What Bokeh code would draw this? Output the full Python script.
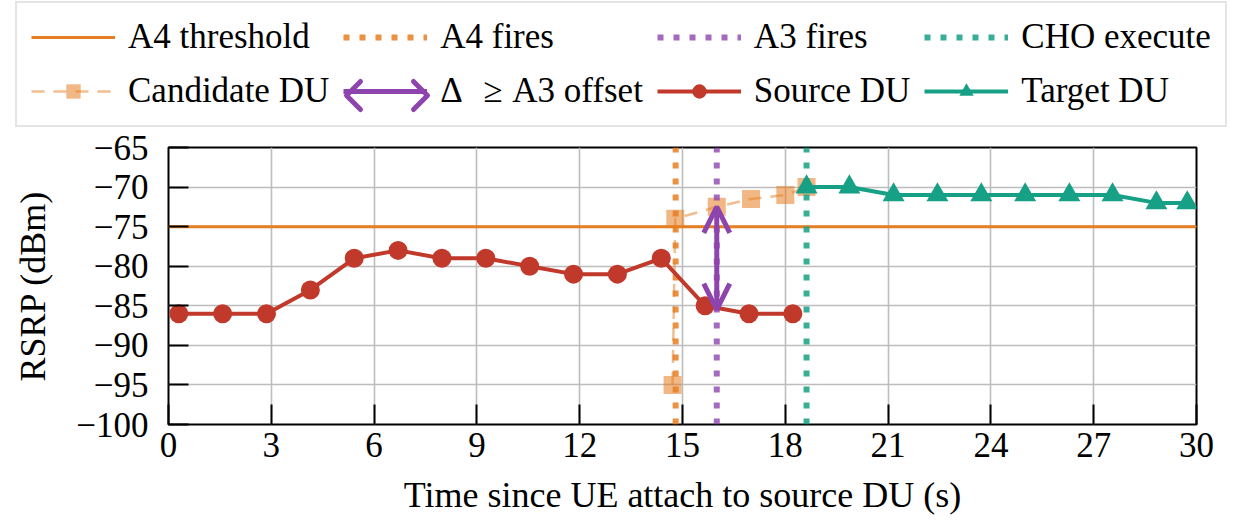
from bokeh.plotting import figure
from bokeh.layouts import column
from bokeh.models import (Legend, LegendItem, Arrow, OpenHead, Range1d, FixedTicker)
from bokeh.embed import file_html
from bokeh.resources import INLINE

# ---------------- data ----------------
t_source = [0.3, 1.58, 2.86, 4.14, 5.42, 6.7, 7.98, 9.26, 10.54, 11.82, 13.1, 14.38, 15.66, 16.94, 18.22]
rsrp_source = [-86, -86, -86, -83, -79, -78, -79, -79, -80, -81, -81, -79, -85, -86, -86]

t_target = [18.62, 19.87, 21.16, 22.44, 23.72, 25.0, 26.29, 27.55, 28.83, 29.73]
rsrp_target = [-70, -70, -71, -71, -71, -71, -71, -71, -72, -72]

t_candidate = [14.71, 14.79, 16.0, 17.0, 18.0, 18.62]
rsrp_candidate = [-95, -74, -72.5, -71.5, -71, -70]

a4_threshold = -75
t_a4_fires = 14.8
t_a3_fires = 16.0
t_cho_execute = 18.62
a3_arrow_rsrp = [-85.5, -72.5]

x_min, x_max = 0, 30
y_min, y_max = -100, -65
x_ticks = [0, 3, 6, 9, 12, 15, 18, 21, 24, 27, 30]
y_ticks = [-100, -95, -90, -85, -80, -75, -70, -65]
y_tick_labels = ["\u2212100", "\u221295", "\u221290", "\u221285", "\u221280", "\u221275", "\u221270", "\u221265"]

legend_labels = ["A4 threshold", "A4 fires", "A3 fires", "CHO execute",
                 "Candidate DU", "\u0394\u2002\u200a\u2265\u2009\u200aA3 offset", "Source DU", "Target DU"]

# ---------------- style ----------------
FONT = "Liberation Serif"
ORANGE = "#e67e22"
PURPLE = "#8e44ad"
TEAL = "#16a085"
RED = "#c0392b"
DOT = "6 10"

STY = {
    "thresh": dict(line_color=ORANGE, line_width=3),
    "a4": dict(line_color=ORANGE, line_alpha=0.85, line_width=6, line_dash=DOT),
    "a3": dict(line_color=PURPLE, line_alpha=0.8, line_width=6, line_dash=DOT),
    "cho": dict(line_color=TEAL, line_alpha=0.85, line_width=6, line_dash=DOT),
    "cand_line": dict(line_color=ORANGE, line_alpha=0.5, line_width=2.5, line_dash="13 9"),
    "cand_pts": dict(marker="square", size=18, fill_color=ORANGE, fill_alpha=0.55, line_color=None),
    "delta": dict(line_color=PURPLE, line_width=5),
    "src_line": dict(line_color=RED, line_width=4),
    "src_pts": dict(marker="circle", size=19, fill_color=RED, line_color=None),
    "tgt_line": dict(line_color=TEAL, line_width=4),
    "tgt_pts": dict(marker="triangle", size=22, fill_color=TEAL, line_color=None),
}
HEAD = dict(size=26, line_color=PURPLE, line_width=5)

LH = 128          # legend strip height
TOP = 147 - LH    # remaining border above the plot frame

# ================= main plot =================
p = figure(width=1244, height=526 - LH, output_backend="svg", toolbar_location=None,
           x_range=Range1d(x_min, x_max), y_range=Range1d(y_min, y_max),
           min_border_left=168, min_border_right=48, min_border_top=TOP, min_border_bottom=102)
p.frame_align = False
p.background_fill_color = "white"
p.border_fill_color = "white"
p.outline_line_color = "black"
p.outline_line_width = 2

p.xgrid.ticker = FixedTicker(ticks=x_ticks)
p.ygrid.ticker = FixedTicker(ticks=y_ticks)
for g in (p.xgrid, p.ygrid):
    g.grid_line_color = "#bdbdbd"
    g.grid_line_width = 1.6

p.xaxis.ticker = FixedTicker(ticks=x_ticks)
p.yaxis.ticker = FixedTicker(ticks=y_ticks)
p.yaxis.major_label_overrides = {v: s for v, s in zip(y_ticks, y_tick_labels)}
p.xaxis.axis_label = "Time since UE attach to source DU (s)"
p.yaxis.axis_label = "RSRP (dBm)"
for ax in (p.xaxis, p.yaxis):
    ax.axis_line_color = None
    ax.major_tick_in = 20
    ax.major_tick_out = 0
    ax.minor_tick_in = 0
    ax.minor_tick_out = 0
    ax.major_tick_line_color = "black"
    ax.major_tick_line_width = 2
    ax.major_label_text_font = FONT
    ax.major_label_text_font_size = "35px"
    ax.major_label_text_color = "black"
    ax.axis_label_text_font = FONT
    ax.axis_label_text_font_size = "36px"
    ax.axis_label_text_font_style = "normal"
    ax.axis_label_text_color = "black"
p.xaxis.major_label_standoff = 8
p.xaxis.axis_label_standoff = 15
p.yaxis.major_label_standoff = 20
p.yaxis.axis_label_standoff = 20

p.line(x=[x_min, x_max], y=[a4_threshold, a4_threshold], **STY["thresh"])
p.line(x=t_candidate, y=rsrp_candidate, **STY["cand_line"])
p.scatter(x=t_candidate, y=rsrp_candidate, **STY["cand_pts"])
p.segment(x0=[t_a4_fires], y0=[y_min], x1=[t_a4_fires], y1=[y_max], **STY["a4"])
p.segment(x0=[t_a3_fires], y0=[y_min], x1=[t_a3_fires], y1=[y_max], **STY["a3"])
p.line(x=t_source, y=rsrp_source, **STY["src_line"])
p.scatter(x=t_source, y=rsrp_source, **STY["src_pts"])
p.add_layout(Arrow(x_start=t_a3_fires, y_start=a3_arrow_rsrp[0], x_end=t_a3_fires, y_end=a3_arrow_rsrp[1],
                   line_color=PURPLE, line_width=5, start=OpenHead(**HEAD), end=OpenHead(**HEAD)))
p.segment(x0=[t_cho_execute], y0=[y_min], x1=[t_cho_execute], y1=[y_max], **STY["cho"])
p.line(x=t_target, y=rsrp_target, **STY["tgt_line"])
p.scatter(x=t_target, y=rsrp_target, **STY["tgt_pts"])

# ================= legend strip (pixel coordinates) =================
LW = 1244
lg = figure(width=LW, height=LH, output_backend="svg", toolbar_location=None,
            x_range=Range1d(0, LW), y_range=Range1d(LH, 0),
            x_axis_type=None, y_axis_type=None,
            min_border_left=0, min_border_right=0, min_border_top=0, min_border_bottom=0)
lg.frame_align = False
lg.outline_line_color = None
lg.grid.visible = False
lg.background_fill_color = "white"
lg.border_fill_color = "white"

off = [-99999]
rr = {k: (lg.scatter(x=off, y=off, **v) if "marker" in v else lg.line(x=off, y=off, **v))
      for k, v in STY.items()}
groups = [["thresh"], ["a4"], ["a3"], ["cho"],
          ["cand_line", "cand_pts"], ["delta"], ["src_line", "src_pts"], ["tgt_line", "tgt_pts"]]
items = [LegendItem(label=lab, renderers=[rr[k] for k in g]) for lab, g in zip(legend_labels, groups)]
legend = Legend(items=items, ncols=4, orientation="horizontal", location=(15, 1),
                glyph_width=84, glyph_height=36, label_height=36, label_standoff=13,
                spacing=14, padding=14, margin=0,
                label_text_font=FONT, label_text_font_size="35px", label_text_color="black",
                border_line_color="#cccccc", border_line_width=2,
                background_fill_alpha=0.0)
lg.add_layout(legend, "center")

# open arrow heads on the legend's delta glyph (drawn under the transparent legend box)
ax0, ax1, ay, hd, hh = 346, 427, 95, 14, 14
lg.multi_line(xs=[[ax0 + hd, ax0, ax0 + hd], [ax1 - hd, ax1, ax1 - hd]],
              ys=[[ay - hh, ay, ay + hh], [ay - hh, ay, ay + hh]],
              line_color=PURPLE, line_width=5, line_cap="round", line_join="round")

layout = column(lg, p, spacing=0)
open("out.html", "w").write(file_html(layout, INLINE))
